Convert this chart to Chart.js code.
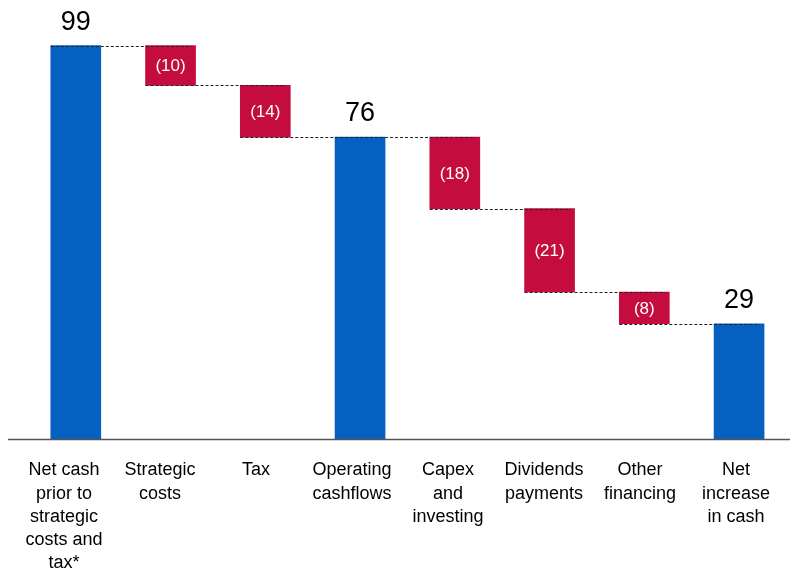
<!DOCTYPE html>
<html>
<head>
<meta charset="utf-8">
<script src="https://cdn.jsdelivr.net/npm/chart.js@4.4.0/dist/chart.umd.min.js"></script>
<style>
    html, body { margin: 0; padding: 0; background: #ffffff; }
    #wrap { width: 790px; height: 568px; }
</style>
</head>
<body>
<div id="wrap"><canvas id="cashChart" width="790" height="568"></canvas></div>
<script>
// Categories (multi-line labels)
const categories = [
    ["Net cash", "prior to", "strategic", "costs and", "tax*"],
    ["Strategic", "costs"],
    ["Tax"],
    ["Operating", "cashflows"],
    ["Capex", "and", "investing"],
    ["Dividends", "payments"],
    ["Other", "financing"],
    ["Net", "increase", "in cash"]
];

// Displayed values
const values = [99, -10, -14, 76, -18, -21, -8, 29];
const isTotal = [true, false, false, true, false, false, false, true];

// Level reached at the end of each bar
const levels = [99, 89, 76, 76, 58, 37, 29, 29];

const BLUE = "#0561c1";
const RED = "#c50c3e";

// Build floating bars
const barData = [];
const barColors = [];
for (let i = 0; i < values.length; i++) {
    if (isTotal[i]) {
        barData.push({ x: i, y: [0, values[i]] });
        barColors.push(BLUE);
    } else {
        barData.push({ x: i, y: [levels[i], levels[i - 1]] });
        barColors.push(RED);
    }
}

function fmt(v) {
    return v < 0 ? "(" + Math.abs(v) + ")" : String(v);
}

// Connectors, value labels and baseline
const waterfallPlugin = {
    id: "waterfall",
    afterDatasetsDraw(chart) {
        const ctx = chart.ctx;
        const meta = chart.getDatasetMeta(0);
        const yScale = chart.scales.y;
        const area = chart.chartArea;

        // dashed connectors
        ctx.save();
        ctx.strokeStyle = "#222";
        ctx.lineWidth = 1;
        ctx.setLineDash([3, 2]);
        for (let i = 0; i < meta.data.length - 1; i++) {
            const cur = meta.data[i];
            const next = meta.data[i + 1];
            const y = Math.round(yScale.getPixelForValue(levels[i])) + 0.5;
            ctx.beginPath();
            ctx.moveTo(cur.x - cur.width / 2, y);
            ctx.lineTo(next.x + next.width / 2 - 4, y);
            ctx.stroke();
        }
        ctx.restore();

        // baseline
        ctx.save();
        ctx.strokeStyle = "#555";
        ctx.lineWidth = 1.5;
        ctx.beginPath();
        ctx.moveTo(8, area.bottom + 0.5);
        ctx.lineTo(790, area.bottom + 0.5);
        ctx.stroke();
        ctx.restore();

        // value labels
        ctx.save();
        ctx.textAlign = "center";
        meta.data.forEach((bar, i) => {
            if (isTotal[i]) {
                ctx.fillStyle = "#000";
                ctx.font = "27px 'Liberation Sans', Arial, sans-serif";
                ctx.textBaseline = "alphabetic";
                ctx.fillText(fmt(values[i]), bar.x, bar.y - 16);
            } else {
                ctx.fillStyle = "#ffffff";
                ctx.font = "17px 'Liberation Sans', Arial, sans-serif";
                ctx.textBaseline = "middle";
                ctx.fillText(fmt(values[i]), bar.x, (bar.y + bar.base) / 2 + 1);
            }
        });
        ctx.restore();
    }
};

new Chart(document.getElementById("cashChart").getContext("2d"), {
    type: "bar",
    data: {
        labels: categories,
        datasets: [{
            data: barData,
            xAxisID: "xb",
            backgroundColor: barColors,
            borderWidth: 0,
            barThickness: 50
        }]
    },
    options: {
        responsive: false,
        animation: false,
        layout: {
            padding: { left: 16, right: 0, top: 2, bottom: 0 }
        },
        plugins: {
            legend: { display: false },
            tooltip: { enabled: false }
        },
        scales: {
            // category axis carrying the labels
            x: {
                type: "category",
                offset: true,
                grid: { display: false, drawTicks: false },
                border: { display: false },
                ticks: {
                    color: "#000",
                    padding: 20,
                    maxRotation: 0,
                    autoSkip: false,
                    font: { family: "'Liberation Sans', Arial, sans-serif", size: 18, lineHeight: 1.28 }
                },
                afterFit(scale) {
                    scale.height = 129;
                }
            },
            // hidden linear axis placing the bars
            xb: {
                type: "linear",
                display: false,
                offset: false,
                grid: { offset: false },
                min: -0.631,
                max: 7.474
            },
            y: {
                display: false,
                min: 0,
                max: 110
            }
        }
    },
    plugins: [waterfallPlugin]
});
</script>
</body>
</html>
